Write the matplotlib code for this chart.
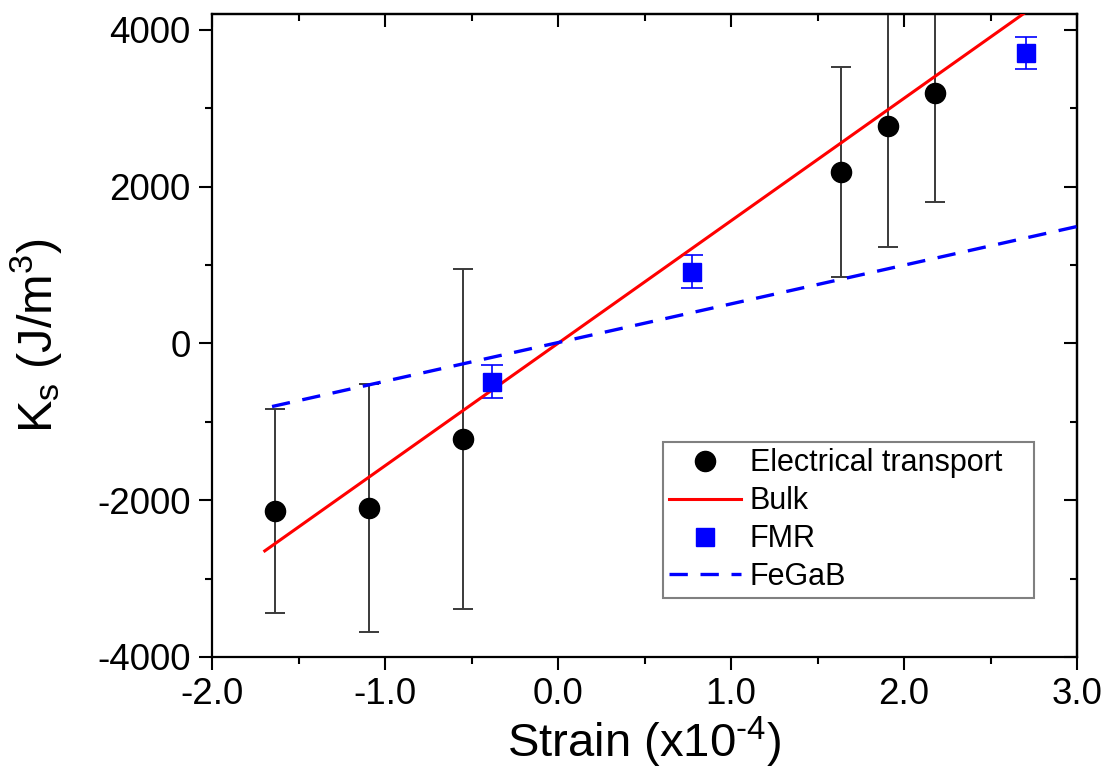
import matplotlib
matplotlib.use("Agg")
import matplotlib.pyplot as plt
from matplotlib.ticker import MultipleLocator

plt.rcParams['font.family'] = ['Liberation Sans', 'DejaVu Sans']
plt.rcParams['mathtext.fontset'] = 'custom'
plt.rcParams['mathtext.rm'] = 'Liberation Sans'
plt.rcParams['mathtext.it'] = 'Liberation Sans'
plt.rcParams['axes.unicode_minus'] = False

# Electrical transport data
et_strain = [-1.635, -1.09, -0.547, 1.638, 1.91, 2.182]
et_ks = [-2136, -2098, -1218, 2187, 2774, 3195]
et_err = [1300, 1580, 2170, 1340, 1543, 1390]

# FMR data
fmr_strain = [-0.384, 0.776, 2.703]
fmr_ks = [-487, 916, 3705]
fmr_err = [210, 208, 205]

# Bulk line (endpoints)
bulk_strain = [-1.695, 2.75]
bulk_ks = [-2647, 4296]

# FeGaB line (endpoints)
fegab_strain = [-1.653, 3.0]
fegab_ks = [-806, 1490]

xticks = [-2.0, -1.0, 0.0, 1.0, 2.0, 3.0]
yticks = [-4000, -2000, 0, 2000, 4000]

fig = plt.figure(figsize=(11.11, 7.8), dpi=100)
ax = fig.add_axes([212/1111, 1 - 657/780, (1077-212)/1111, (657-14)/780])

ax.errorbar(et_strain, et_ks, yerr=et_err, fmt='none', ecolor='#3a3a3a',
            elinewidth=1.4, capsize=7, capthick=1.4, zorder=2)
ax.errorbar(fmr_strain, fmr_ks, yerr=fmr_err, fmt='none', ecolor='#0000ff',
            elinewidth=1.2, capsize=8, capthick=1.2, zorder=2)

h1, = ax.plot(et_strain, et_ks, 'o', color='black', ms=14.5, ls='none',
              label='Electrical transport', zorder=4)
h2, = ax.plot(bulk_strain, bulk_ks, '-', color='#ff0000', lw=2.2,
              label='Bulk', zorder=3)
h3, = ax.plot(fmr_strain, fmr_ks, 's', color='#0000ff', ms=12.5, ls='none',
              label='FMR', zorder=4)
h4, = ax.plot(fegab_strain, fegab_ks, color='#0000ff', lw=2.4,
              ls=(0, (5.5, 3.8)), label='FeGaB', zorder=3)

ax.set_xlim(-2.0, 3.0)
ax.set_ylim(-4000, 4200)
ax.set_xticks(xticks)
ax.set_xticklabels([f"{t:.1f}" for t in xticks])
ax.set_yticks(yticks)
ax.set_yticklabels([str(t) for t in yticks])
ax.xaxis.set_minor_locator(MultipleLocator(0.5))
ax.yaxis.set_minor_locator(MultipleLocator(1000))

for s in ax.spines.values():
    s.set_linewidth(1.6)

ax.tick_params(which='both', direction='out', top=False, right=False, width=1.5)
ax.tick_params(which='major', length=9.5)
ax.tick_params(which='minor', length=5)
ax.tick_params(axis='x', labelsize=26.5, pad=5)
ax.tick_params(axis='y', labelsize=26.5, pad=6)

secx = ax.secondary_xaxis('top')
secx.set_xticks(xticks)
secx.xaxis.set_minor_locator(MultipleLocator(0.5))
secx.tick_params(which='both', direction='in', labeltop=False, width=1.5)
secx.tick_params(which='major', length=9.5)
secx.tick_params(which='minor', length=5)
secx.spines['top'].set_linewidth(1.6)

secy = ax.secondary_yaxis('right')
secy.set_yticks(yticks)
secy.yaxis.set_minor_locator(MultipleLocator(1000))
secy.tick_params(which='both', direction='in', labelright=False, width=1.5)
secy.tick_params(which='major', length=9.5)
secy.tick_params(which='minor', length=5)
secy.spines['right'].set_linewidth(1.6)

ax.set_xlabel(r'Strain (x10$^{\text{-4}}$)', fontsize=34, labelpad=2)
ax.set_ylabel(r'K$_{\mathregular{s}}$ (J/m$^{\mathregular{3}}$)', fontsize=35, labelpad=24)

leg = ax.legend(handles=[h1, h2, h3, h4], loc='upper left',
                bbox_to_anchor=(0.521, 0.093, 0.429, 0.241), mode='expand',
                fontsize=22, frameon=True,
                fancybox=False, edgecolor='#808080', framealpha=1,
                handlelength=2.35, handletextpad=0.3, borderpad=0.2,
                labelspacing=0.26, borderaxespad=0)
leg.get_frame().set_linewidth(1.5)

fig.savefig('out.png', dpi=100)
